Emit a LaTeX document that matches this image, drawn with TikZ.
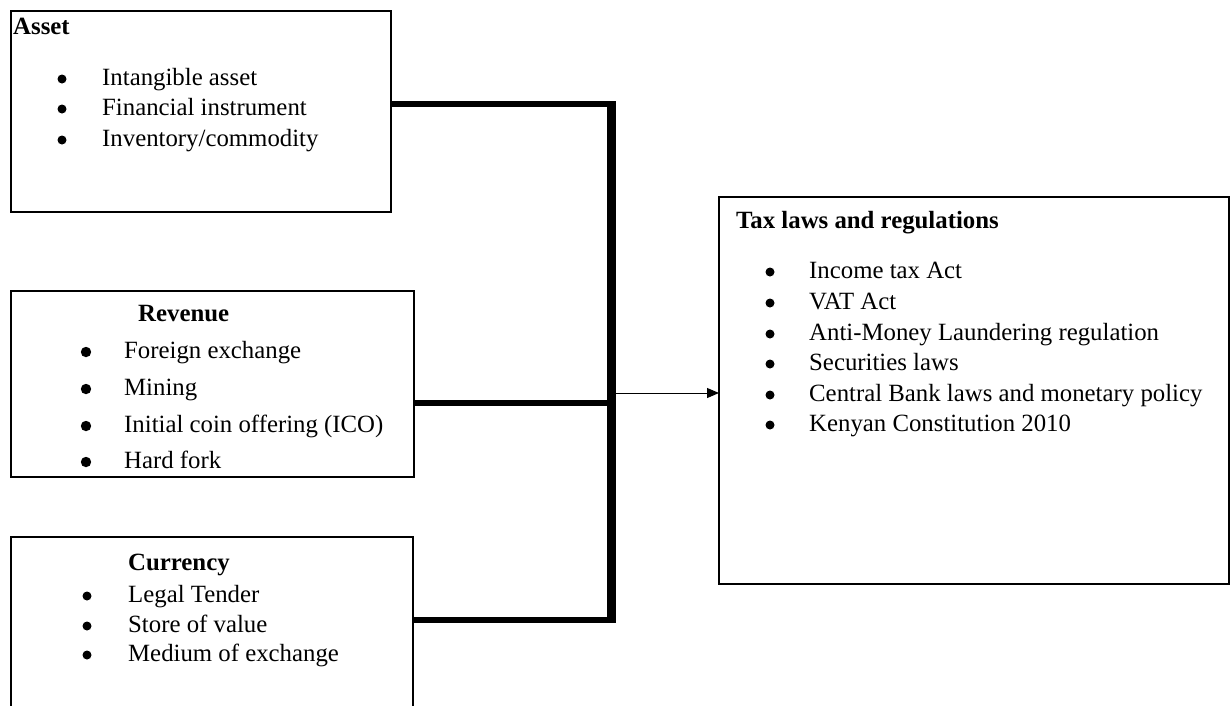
\documentclass[tikz,border=0pt]{standalone}
\usepackage{fontspec}
\setmainfont{Liberation Serif}
\usetikzlibrary{arrows.meta}
\begin{document}
\begin{tikzpicture}[x=1pt,y=-1pt,
  box/.style={draw, line width=1.3pt, anchor=north west, inner sep=0pt, outer sep=0pt},
  txt/.style={anchor=base west, inner sep=0pt, font=\fontsize{24.8}{29}\selectfont},
  hdr/.style={anchor=base west, inner sep=0pt, font=\fontsize{24.8}{29}\selectfont\bfseries},
  conn/.style={line width=6pt},
  bar/.style={line width=9pt},
  arr/.style={line width=1pt, -{Triangle[length=12pt,width=10pt]}},
  dot/.style={fill=black}
]
\useasboundingbox (0,0) rectangle (1232,705);
\clip (0,0) rectangle (1232,705);
% boxes
\node[box, minimum width=380pt, minimum height=201pt] (asset) at (11,11) {};
\node[box, minimum width=403pt, minimum height=186pt] (revenue) at (11,291) {};
\node[box, minimum width=402pt, minimum height=190pt] (currency) at (11,537) {};
\node[box, minimum width=510pt, minimum height=387pt] (tax) at (719,197) {};
% Asset
\node[hdr] (ah) at (13,34) {Asset};
\fill[dot] (62,79) circle (4.5pt); \node[txt] (a1) at (102,85) {Intangible asset};
\fill[dot] (62,109) circle (4.5pt); \node[txt] (a2) at (102,115) {Financial instrument};
\fill[dot] (62,140) circle (4.5pt); \node[txt] (a3) at (102,146) {Inventory/commodity};
% Revenue
\node[hdr] (rh) at (138,321) {Revenue};
\fill[dot] (86,352) circle (5.2pt); \node[txt] (r1) at (124,358) {Foreign exchange};
\fill[dot] (86,389) circle (5.2pt); \node[txt] (r2) at (124,395) {Mining};
\fill[dot] (86,426) circle (5.2pt); \node[txt] (r3) at (124,432) {Initial coin offering (ICO)};
\fill[dot] (86,462) circle (5.2pt); \node[txt] (r4) at (124,468) {Hard fork};
% Currency
\node[hdr] (ch) at (128,570) {Currency};
\fill[dot] (87,596) circle (4.5pt); \node[txt] (c1) at (128,602) {Legal Tender};
\fill[dot] (87,626) circle (4.5pt); \node[txt] (c2) at (128,632) {Store of value};
\fill[dot] (87,655) circle (4.5pt); \node[txt] (c3) at (128,661) {Medium of exchange};
% Tax
\node[hdr] (th) at (736,228) {Tax laws and regulations};
\fill[dot] (770,272) circle (4.5pt); \node[txt] (t1) at (809,278) {Income tax Act};
\fill[dot] (770,303) circle (4.5pt); \node[txt] (t2) at (809,309) {VAT Act};
\fill[dot] (770,334) circle (4.5pt); \node[txt] (t3) at (809,340) {Anti-Money Laundering regulation};
\fill[dot] (770,364) circle (4.5pt); \node[txt] (t4) at (809,370) {Securities laws};
\fill[dot] (770,395) circle (4.5pt); \node[txt] (t5) at (809,401) {Central Bank laws and monetary policy};
\fill[dot] (770,425) circle (4.5pt); \node[txt] (t6) at (809,431) {Kenyan Constitution 2010};
% connectors
\coordinate (bt) at (611,101);
\coordinate (bb) at (611,623);
\coordinate (j1) at (615.5,104);
\coordinate (j2) at (615.5,403);
\coordinate (j3) at (615.5,620);
\coordinate (ja) at (615.5,393);
\draw[bar] (bt) -- (bb);
\draw[conn] (asset.east |- j1) -- (j1);
\draw[conn] (revenue.east |- j2) -- (j2);
\draw[conn] (currency.east |- j3) -- (j3);
\draw[arr] (ja) -- (ja -| tax.west);
\end{tikzpicture}
\end{document}
